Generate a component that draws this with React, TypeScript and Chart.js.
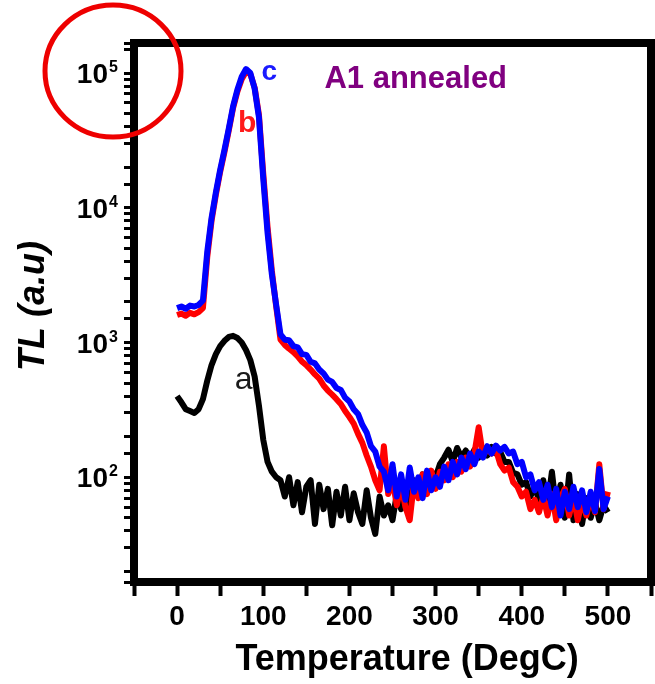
import React, { useEffect, useRef } from 'react';
import { Chart, registerables } from 'chart.js';

Chart.register(...registerables);

// Temperature (DegC) sampling of the glow curves
const temperatures = [
  0, 5, 10, 15, 20, 25, 30, 35, 40, 45,
  50, 55, 60, 65, 70, 75, 80, 85, 90, 95,
  100, 105, 110, 115, 120, 125, 130, 135, 140, 145,
  150, 155, 160, 165, 170, 175, 180, 185, 190, 195,
  200, 205, 210, 215, 220, 225, 230, 235, 240, 245,
  250, 255, 260, 265, 270, 275, 280, 285, 290, 295,
  300, 305, 310, 315, 320, 325, 330, 335, 340, 345,
  350, 355, 360, 365, 370, 375, 380, 385, 390, 395,
  400, 405, 410, 415, 420, 425, 430, 435, 440, 445,
  450, 455, 460, 465, 470, 475, 480, 485, 490, 495,
  500,
];

// curve a (black)
const curveA = [
  400, 360, 320, 310, 300, 320, 380, 520, 680, 820,
  940, 1030, 1100, 1120, 1080, 1000, 880, 740, 560, 340,
  190, 130, 110, 100, 95, 72, 100, 62, 92, 55,
  85, 95, 45, 88, 58, 82, 44, 78, 52, 85,
  48, 76, 55, 45, 80, 50, 38, 72, 52, 62,
  48, 75, 58, 85, 62, 95, 80, 105, 88, 110,
  100, 125, 140, 160, 130, 165, 140, 158, 135, 160,
  140, 165, 145, 168, 150, 155, 130, 130, 108, 105,
  88, 92, 72, 85, 68, 95, 62, 110, 58, 88,
  50, 105, 48, 75, 45, 70, 50, 65, 48, 62,
  55,
];

// curve b (red)
const curveB = [
  1600, 1640, 1580, 1660, 1620, 1680, 1800, 4300, 8000, 12500,
  18500, 26000, 37500, 55000, 73000, 90000, 102000, 98000, 78000, 49000,
  18000, 7200, 3400, 1850, 1050, 960, 900, 850, 790, 720,
  680, 630, 580, 540, 480, 440, 410, 380, 350, 310,
  280, 250, 210, 180, 145, 120, 95, 80, 170, 75,
  95, 62, 88, 60, 48, 92, 70, 105, 75, 112,
  82, 110, 95, 125, 100, 130, 110, 140, 120, 150,
  235, 145, 162, 150, 160, 125, 112, 118, 92, 85,
  72, 78, 58, 68, 55, 72, 52, 75, 48, 70,
  82, 52, 72, 48, 68, 52, 72, 55, 125, 58,
  78,
];

// curve c (blue)
const curveC = [
  1800, 1850, 1780, 1880, 1850, 1900, 2050, 4700, 8400, 13000,
  19100, 26900, 38700, 56600, 75200, 93800, 107000, 100000, 76700, 47000,
  16500, 6500, 3200, 1900, 1150, 1050, 1040, 940, 920, 820,
  810, 720, 700, 630, 590, 530, 510, 460, 445, 390,
  365, 320, 295, 245, 215, 170, 155, 120, 110, 80,
  125, 72, 105, 68, 118, 78, 100, 70, 112, 80,
  100, 85, 120, 95, 130, 105, 140, 115, 150, 125,
  155, 140, 170, 150, 172, 158, 168, 150, 155, 125,
  130, 100, 105, 80, 92, 68, 88, 60, 82, 52,
  78, 58, 85, 60, 80, 55, 78, 56, 115, 58,
  72,
];

const xTickLabels = ['0', '100', '200', '300', '400', '500'];
const yDecades = [2, 3, 4, 5];
const xTitle = 'Temperature (DegC)';
const yTitle = 'TL (a.u)';
const sampleTitle = 'A1 annealed';
const curveNames = ['a', 'b', 'c'];

const FONT = '"Liberation Sans", Arial, Helvetica, sans-serif';

const decorPlugin = {
  id: 'decor',
  afterDraw(chart: any) {
    const { ctx, chartArea: a, scales } = chart;
    const xs = scales.x;
    const ys = scales.y;
    ctx.save();

    // frame
    ctx.strokeStyle = '#000';
    ctx.lineWidth = 8;
    ctx.lineJoin = 'miter';
    ctx.strokeRect(a.left, a.top, a.right - a.left, a.bottom - a.top);

    // y tick labels 10^n
    ctx.fillStyle = '#000';
    ctx.textBaseline = 'alphabetic';
    yDecades.forEach((n) => {
      const py = ys.getPixelForValue(Math.pow(10, n));
      ctx.font = `bold 28px ${FONT}`;
      ctx.textAlign = 'right';
      ctx.fillText('10', a.left - 26, py + 10);
      ctx.font = `bold 16px ${FONT}`;
      ctx.textAlign = 'left';
      ctx.fillText(String(n), a.left - 25, py - 1);
    });

    // x title
    ctx.font = `bold 36px ${FONT}`;
    ctx.textAlign = 'center';
    ctx.textBaseline = 'middle';
    ctx.fillText(xTitle, xs.getPixelForValue(267), 660);

    // y title
    ctx.save();
    ctx.translate(34, 306);
    ctx.rotate(-Math.PI / 2);
    ctx.font = `italic bold 36px ${FONT}`;
    ctx.fillText(yTitle, 0, 0);
    ctx.restore();

    // curve labels
    ctx.textAlign = 'left';
    ctx.textBaseline = 'alphabetic';
    ctx.font = `32px ${FONT}`;
    ctx.fillStyle = '#1a1a1a';
    ctx.fillText(curveNames[0], xs.getPixelForValue(67), ys.getPixelForValue(449));
    ctx.font = `bold 30px ${FONT}`;
    ctx.fillStyle = '#ff1a1a';
    ctx.fillText(curveNames[1], xs.getPixelForValue(70.6), ys.getPixelForValue(36600));
    ctx.font = `bold 28px ${FONT}`;
    ctx.fillStyle = '#1a1aff';
    ctx.fillText(curveNames[2], xs.getPixelForValue(98), ys.getPixelForValue(88700));

    ctx.font = `bold 31px ${FONT}`;
    ctx.fillStyle = '#800080';
    ctx.fillText(sampleTitle, xs.getPixelForValue(171), ys.getPixelForValue(77400));

    // red highlight ellipse around the top decade label
    const topY = ys.getPixelForValue(100000);
    ctx.beginPath();
    ctx.ellipse(a.left - 21, topY - 2, 68, 66, 0, 0, Math.PI * 2);
    ctx.strokeStyle = '#ee0000';
    ctx.lineWidth = 5;
    ctx.stroke();

    ctx.restore();
  },
};

export default function App() {
  const canvasRef = useRef<HTMLCanvasElement | null>(null);

  useEffect(() => {
    if (!canvasRef.current) return;
    const toPoints = (vals: number[]) => temperatures.map((t, i) => ({ x: t, y: vals[i] }));
    const chart = new Chart(canvasRef.current, {
      type: 'line',
      data: {
        datasets: [
          { label: 'c', data: toPoints(curveC), borderColor: '#0000ff', borderWidth: 6, pointRadius: 0, tension: 0, borderJoinStyle: 'round' },
          { label: 'b', data: toPoints(curveB), borderColor: '#ff0000', borderWidth: 6, pointRadius: 0, tension: 0, borderJoinStyle: 'round' },
          { label: 'a', data: toPoints(curveA), borderColor: '#000000', borderWidth: 6, pointRadius: 0, tension: 0, borderJoinStyle: 'round' },
        ],
      } as any,
      options: {
        responsive: false,
        animation: false,
        layout: { padding: { left: 0, top: 43, right: 2, bottom: 0 } },
        plugins: { legend: { display: false }, tooltip: { enabled: false } },
        scales: {
          x: {
            type: 'linear',
            min: -50,
            max: 550,
            afterFit: (s: any) => { s.height = 102; },
            border: { display: false },
            grid: { drawOnChartArea: false, drawTicks: true, tickLength: 14, tickWidth: 4, tickColor: '#000' },
            ticks: {
              stepSize: 50,
              autoSkip: false,
              maxRotation: 0,
              minRotation: 0,
              padding: 4,
              color: '#000',
              font: { family: FONT, size: 28, weight: 'bold' },
              callback: (v: any) => (xTickLabels.includes(String(v)) ? String(v) : ''),
            },
          },
          y: {
            type: 'logarithmic',
            min: 16.7,
            max: 167000,
            afterFit: (s: any) => { s.width = 134; },
            border: { display: false },
            grid: { drawOnChartArea: false, drawTicks: true, tickLength: 10, tickWidth: 3, tickColor: '#000' },
            ticks: { display: false, autoSkip: false },
          },
        },
      } as any,
      plugins: [decorPlugin],
    });
    return () => chart.destroy();
  }, []);

  return (
    <div style={{ position: 'fixed', left: 0, top: 0, width: 655, height: 684, background: '#fff' }}>
      <canvas ref={canvasRef} width={655} height={684} style={{ display: 'block' }} />
    </div>
  );
}
